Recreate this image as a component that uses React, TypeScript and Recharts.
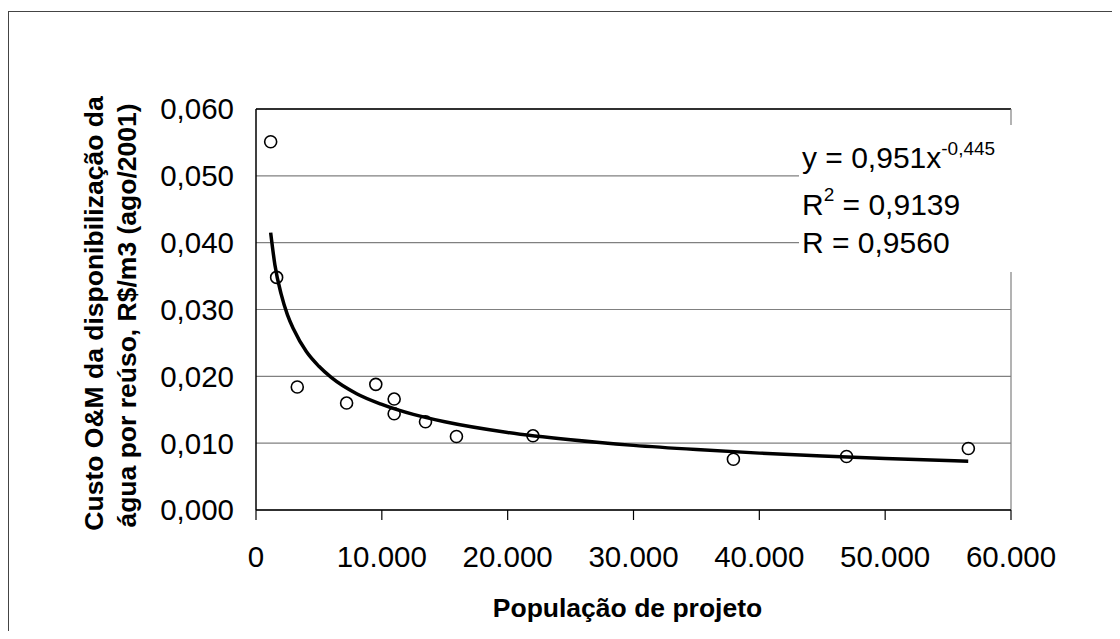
import React from "react";
import {
  ComposedChart,
  Scatter,
  Line,
  XAxis,
  YAxis,
  CartesianGrid,
  ReferenceLine,
} from "recharts";

// observed points: population vs O&M cost (R$/m3)
const population = [1165, 1640, 3280, 7200, 9520, 10980, 10980, 13470, 15930, 22010, 37940, 46930, 56610];
const cost = [0.0551, 0.0348, 0.0184, 0.016, 0.0188, 0.0166, 0.0144, 0.0132, 0.011, 0.0111, 0.0076, 0.008, 0.0092];

// power trend line as drawn on the chart
const trendX = [1165, 1500, 2000, 2500, 3000, 4000, 5000, 6000, 8000, 10000, 12500, 15000, 20000, 25000, 30000, 35000, 40000, 45000, 50000, 56600];
const trendY = [0.0415, 0.0367, 0.0323, 0.0292, 0.027, 0.0237, 0.0215, 0.0198, 0.0174, 0.0158, 0.0143, 0.0132, 0.0116, 0.0105, 0.00967, 0.00904, 0.00851, 0.00808, 0.00771, 0.0073];

const xTicks = [0, 10000, 20000, 30000, 40000, 50000, 60000];
const yTicks = [0, 0.01, 0.02, 0.03, 0.04, 0.05, 0.06];

const FONT = '"Liberation Sans", Arial, sans-serif';

const points = population.map((x, i) => ({ x, y: cost[i] }));
const trend = trendX.map((x, i) => ({ x, y: trendY[i] }));

const fmtX = (v: number) => (v === 0 ? "0" : v.toLocaleString("de-DE"));
const fmtY = (v: number) => v.toFixed(3).replace(".", ",");

function YLabel(props: any) {
  const { viewBox } = props;
  const cy = viewBox.y + viewBox.height / 2 + 4;
  return (
    <g fontFamily={FONT} fontWeight="bold" fontSize={26.5} fill="#000">
      <text x={95} y={cy} textAnchor="middle" transform={`rotate(-90 95 ${cy})`}>
        Custo O&amp;M da disponibilização da
      </text>
      <text x={128} y={cy + 2} textAnchor="middle" transform={`rotate(-90 128 ${cy + 2})`}>
        água por reúso, R$/m3 (ago/2001)
      </text>
    </g>
  );
}

function Circle(props: any) {
  return <circle cx={props.cx} cy={props.cy} r={6} fill="none" stroke="#000" strokeWidth={1.6} />;
}

export default function App() {
  return (
    <div style={{ position: "relative", width: 1112, height: 623, overflow: "hidden", fontFamily: FONT }}>
      <div
        style={{
          position: "absolute",
          left: 0,
          top: 3,
          width: 1200,
          height: 700,
          borderTop: "1.5px solid #444",
          borderLeft: "1.5px solid #444",
        }}
      />
      <ComposedChart
        width={1112}
        height={623}
        margin={{ top: 101, right: 109, left: 0, bottom: 0 }}
        style={{ position: "absolute", left: 0, top: 0 }}
      >
        <CartesianGrid vertical={false} stroke="#808080" strokeWidth={1.2} />
        <XAxis
          type="number"
          dataKey="x"
          domain={[0, 60000]}
          ticks={xTicks}
          tickFormatter={fmtX}
          height={121}
          tickSize={10}
          tickMargin={26}
          axisLine={{ stroke: "#000", strokeWidth: 1.5 }}
          tickLine={{ stroke: "#000", strokeWidth: 1.2 }}
          tick={{ fill: "#000", fontSize: 29.5, fontFamily: FONT }}
          label={{
            value: "População de projeto",
            position: "insideBottom",
            offset: 14,
            dx: -6,
            fill: "#000",
            fontSize: 26.5,
            fontWeight: "bold",
            fontFamily: FONT,
          }}
        />
        <YAxis
          type="number"
          domain={[0, 0.06]}
          ticks={yTicks}
          tickFormatter={fmtY}
          width={248}
          tickSize={0}
          tickMargin={22}
          axisLine={{ stroke: "#000", strokeWidth: 1.5 }}
          tickLine={false}
          tick={{ fill: "#000", fontSize: 29.5, fontFamily: FONT }}
          label={{ content: YLabel }}
        />
        <ReferenceLine y={0.06} stroke="#000" strokeWidth={1.5} />
        <ReferenceLine x={60000} stroke="#808080" strokeWidth={1.2} />
        <Line
          data={trend}
          dataKey="y"
          type="monotone"
          stroke="#000"
          strokeWidth={3.5}
          dot={false}
          activeDot={false}
          isAnimationActive={false}
        />
        <Scatter data={points} dataKey="y" shape={Circle} isAnimationActive={false} />
      </ComposedChart>
      <svg
        width={216}
        height={147}
        style={{ position: "absolute", left: 791, top: 117 }}
        fontFamily={FONT}
      >
        <rect x={0} y={0} width={216} height={147} fill="#fff" />
        <text x={3} y={43} fontSize={30} fill="#000">
          y = 0,951x
          <tspan fontSize={19} dy={-13}>-0,445</tspan>
        </text>
        <text x={3} y={90} fontSize={30} fill="#000">
          R<tspan fontSize={19} dy={-14}>2</tspan>
          <tspan dy={14}> = 0,9139</tspan>
        </text>
        <text x={3} y={128} fontSize={30} fill="#000">
          R = 0,9560
        </text>
      </svg>
    </div>
  );
}
